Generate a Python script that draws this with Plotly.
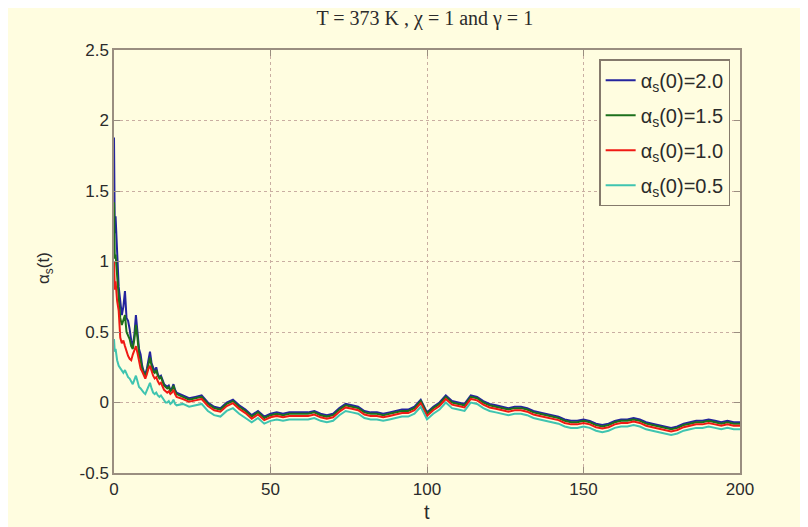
import plotly.graph_objects as go

# ---- data ----
t = [0, 0.25, 0.5, 1, 1.5, 2, 2.5, 3, 3.5, 4, 4.5, 5, 5.5, 6, 6.5, 7, 7.5, 8, 8.5, 9,
     9.5, 10, 10.5, 11, 11.5, 12, 12.5, 13, 13.5, 14, 14.5, 15, 15.5, 16, 16.5, 17,
     17.5, 18, 18.5, 19, 19.5, 20,
     22, 24, 26, 28, 30, 32, 34, 36, 38, 40,
     42, 44, 46, 48, 50, 52, 54, 56, 58, 60,
     62, 64, 66, 68, 70, 72, 74, 76, 78, 80,
     82, 84, 86, 88, 90, 92, 94, 96, 98, 100,
     102, 104, 106, 108, 110, 112, 114, 116, 118, 120,
     122, 124, 126, 128, 130, 132, 134, 136, 138, 140,
     142, 144, 146, 148, 150, 152, 154, 156, 158, 160,
     162, 164, 166, 168, 170, 172, 174, 176, 178, 180,
     182, 184, 186, 188, 190, 192, 194, 196, 198, 200]

alpha_20 = [1.88, 1.20, 1.32, 1.10, 0.82, 0.72, 0.62, 0.68, 0.79, 0.60, 0.58, 0.52, 0.44, 0.40,
            0.48, 0.62, 0.50, 0.38, 0.34, 0.26, 0.22, 0.20, 0.24, 0.30, 0.36, 0.28, 0.24, 0.22,
            0.25, 0.20, 0.18, 0.19, 0.16, 0.13, 0.12, 0.11, 0.12, 0.09, 0.10, 0.13, 0.09, 0.07,
            0.05, 0.03, 0.04, 0.05, 0.00, -0.03, -0.04, 0.00, 0.02, -0.02,
            -0.05, -0.09, -0.06, -0.10, -0.08, -0.07, -0.08, -0.07, -0.07, -0.07,
            -0.07, -0.06, -0.08, -0.09, -0.08, -0.04, -0.01, -0.02, -0.03, -0.06,
            -0.07, -0.07, -0.08, -0.07, -0.06, -0.05, -0.05, -0.03, 0.02, -0.07,
            -0.03, 0.00, 0.05, 0.01, 0.00, -0.01, 0.05, 0.04, 0.01, -0.01,
            -0.02, -0.03, -0.04, -0.03, -0.03, -0.04, -0.06, -0.07, -0.08, -0.09,
            -0.10, -0.12, -0.13, -0.13, -0.12, -0.13, -0.15, -0.16, -0.15, -0.13,
            -0.12, -0.12, -0.11, -0.12, -0.14, -0.15, -0.16, -0.17, -0.18, -0.17,
            -0.15, -0.14, -0.13, -0.13, -0.12, -0.13, -0.14, -0.13, -0.14, -0.14]

alpha_15 = [1.42, 1.02, 1.05, 0.88, 0.72, 0.60, 0.55, 0.58, 0.62, 0.50, 0.48, 0.45, 0.40, 0.38,
            0.45, 0.55, 0.46, 0.34, 0.30, 0.24, 0.21, 0.19, 0.22, 0.28, 0.32, 0.26, 0.22, 0.21,
            0.23, 0.19, 0.17, 0.18, 0.15, 0.12, 0.11, 0.10, 0.11, 0.08, 0.09, 0.12, 0.08, 0.06,
            0.04, 0.02, 0.03, 0.04, -0.01, -0.04, -0.05, -0.01, 0.01, -0.03,
            -0.06, -0.10, -0.07, -0.11, -0.09, -0.08, -0.09, -0.08, -0.08, -0.08,
            -0.08, -0.07, -0.09, -0.10, -0.09, -0.05, -0.02, -0.03, -0.04, -0.07,
            -0.08, -0.08, -0.09, -0.08, -0.07, -0.06, -0.06, -0.04, 0.01, -0.08,
            -0.04, -0.01, 0.04, 0.00, -0.01, -0.02, 0.04, 0.03, 0.00, -0.02,
            -0.03, -0.04, -0.05, -0.04, -0.04, -0.05, -0.07, -0.08, -0.09, -0.10,
            -0.11, -0.13, -0.14, -0.14, -0.13, -0.14, -0.16, -0.17, -0.16, -0.14,
            -0.13, -0.13, -0.12, -0.13, -0.15, -0.16, -0.17, -0.18, -0.19, -0.18,
            -0.16, -0.15, -0.14, -0.14, -0.13, -0.14, -0.15, -0.14, -0.15, -0.15]

alpha_10 = [1.00, 0.80, 0.86, 0.72, 0.65, 0.46, 0.42, 0.44, 0.40, 0.36, 0.33, 0.31, 0.30, 0.34,
            0.38, 0.40, 0.35, 0.28, 0.24, 0.22, 0.19, 0.17, 0.20, 0.24, 0.26, 0.22, 0.19, 0.17,
            0.18, 0.15, 0.13, 0.14, 0.11, 0.09, 0.08, 0.07, 0.08, 0.06, 0.07, 0.09, 0.06, 0.04,
            0.025, 0.005, 0.015, 0.025, -0.025, -0.055, -0.065, -0.025, -0.005, -0.045,
            -0.075, -0.115, -0.085, -0.125, -0.105, -0.095, -0.105, -0.095, -0.095, -0.095,
            -0.095, -0.085, -0.105, -0.115, -0.105, -0.065, -0.035, -0.045, -0.055, -0.085,
            -0.095, -0.095, -0.105, -0.095, -0.085, -0.075, -0.075, -0.055, -0.005, -0.095,
            -0.055, -0.025, 0.025, -0.015, -0.025, -0.035, 0.025, 0.015, -0.015, -0.035,
            -0.045, -0.055, -0.065, -0.055, -0.055, -0.065, -0.085, -0.095, -0.105, -0.115,
            -0.125, -0.145, -0.155, -0.155, -0.145, -0.155, -0.175, -0.185, -0.175, -0.155,
            -0.145, -0.145, -0.135, -0.145, -0.165, -0.175, -0.185, -0.195, -0.205, -0.195,
            -0.175, -0.165, -0.155, -0.155, -0.145, -0.155, -0.165, -0.155, -0.165, -0.165]

alpha_05 = [0.45, 0.36, 0.38, 0.30, 0.26, 0.24, 0.22, 0.21, 0.23, 0.20, 0.18, 0.17, 0.15, 0.13,
            0.16, 0.19, 0.15, 0.11, 0.10, 0.08, 0.07, 0.06, 0.09, 0.12, 0.14, 0.10, 0.07, 0.06,
            0.07, 0.05, 0.04, 0.05, 0.03, 0.01, 0.00, 0.00, 0.01, -0.01, 0.00, 0.02, -0.01, -0.02,
            -0.01, -0.03, -0.02, -0.01, -0.06, -0.09, -0.10, -0.06, -0.04, -0.08,
            -0.11, -0.14, -0.11, -0.15, -0.13, -0.12, -0.13, -0.12, -0.12, -0.12,
            -0.12, -0.11, -0.13, -0.14, -0.13, -0.09, -0.06, -0.07, -0.08, -0.11,
            -0.12, -0.12, -0.13, -0.12, -0.11, -0.10, -0.10, -0.08, -0.03, -0.12,
            -0.08, -0.05, 0.00, -0.04, -0.05, -0.06, 0.00, -0.01, -0.04, -0.06,
            -0.07, -0.08, -0.09, -0.08, -0.08, -0.09, -0.11, -0.12, -0.13, -0.14,
            -0.15, -0.17, -0.18, -0.18, -0.17, -0.18, -0.20, -0.21, -0.20, -0.18,
            -0.17, -0.17, -0.16, -0.17, -0.19, -0.20, -0.21, -0.22, -0.23, -0.22,
            -0.20, -0.19, -0.18, -0.18, -0.17, -0.18, -0.19, -0.18, -0.19, -0.19]

series_names = ["α<sub>s</sub>(0)=2.0", "α<sub>s</sub>(0)=1.5",
                "α<sub>s</sub>(0)=1.0", "α<sub>s</sub>(0)=0.5"]
series_values = [alpha_20, alpha_15, alpha_10, alpha_05]
series_colors = ["#24249e", "#1c701c", "#f01a14", "#3fc4b0"]

x_ticks = [0, 50, 100, 150, 200]
y_ticks = [-0.5, 0, 0.5, 1, 1.5, 2, 2.5]
y_tick_labels = ["-0.5", "0", "0.5", "1", "1.5", "2", "2.5"]

BG = "#fffde0"
AX = "#9a8e80"
GRID = "#c9aea2"
TXT = "#2b2b2b"
SANS = "Liberation Sans, Arial"

fig = go.Figure()
for i, (name, vals, col) in enumerate(zip(series_names, series_values, series_colors)):
    fig.add_trace(go.Scatter(x=t, y=vals, mode="lines", name=name, legendgroup="g%d" % i,
                             line=dict(color=col, width=2)))

axis_common = dict(showline=True, linecolor=AX, linewidth=1.5, mirror="ticks",
                   ticks="inside", ticklen=6, tickcolor=AX, tickwidth=1,
                   showgrid=True, gridcolor=GRID, griddash="dot", gridwidth=1,
                   zeroline=False, tickfont=dict(family=SANS, size=17, color=TXT))

fig.update_xaxes(range=[0, 200], tickvals=x_ticks, ticktext=[str(v) for v in x_ticks],
                 **axis_common)
fig.update_yaxes(range=[-0.5, 2.5], tickvals=y_ticks, ticktext=y_tick_labels,
                 **axis_common)

fig.add_annotation(text="t", xref="paper", yref="paper", x=0.5, y=-0.092,
                   xanchor="center", yanchor="middle", showarrow=False,
                   font=dict(family=SANS, size=20, color=TXT))
fig.add_annotation(text="α<sub>s</sub>(t)", xref="paper", yref="paper", x=-0.11, y=0.485,
                   xanchor="center", yanchor="middle", showarrow=False, textangle=-90,
                   font=dict(family=SANS, size=17, color=TXT))

fig.update_layout(
    width=800, height=519,
    margin=dict(l=106, r=68, t=42, b=54),
    paper_bgcolor=BG, plot_bgcolor=BG,
    title=dict(text="T = 373 K , χ = 1 and γ = 1",
               font=dict(family="Liberation Serif, Times New Roman", size=20, color=TXT),
               x=0.521, xanchor="center", y=0.98, yanchor="middle"),
    legend=dict(x=0.775, y=0.978, xanchor="left", yanchor="top",
                bgcolor=BG, bordercolor="#857a6c", borderwidth=1.5,
                font=dict(family=SANS, size=20, color=TXT),
                tracegroupgap=6, itemwidth=30),
    showlegend=True,
)

fig.write_html("out.html")
